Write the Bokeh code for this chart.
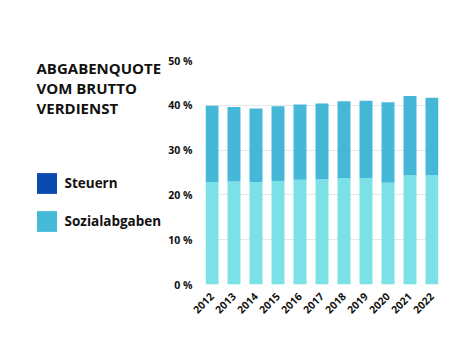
from bokeh.plotting import figure
from bokeh.layouts import row
from bokeh.models import (ColumnDataSource, Range1d, FixedTicker, Label, Legend, LegendItem)
from bokeh.embed import file_html
from bokeh.resources import INLINE
from math import pi

years = ["2012", "2013", "2014", "2015", "2016", "2017", "2018", "2019", "2020", "2021", "2022"]
steuern = [22.9, 23.0, 22.9, 23.1, 23.4, 23.5, 23.8, 23.8, 22.7, 24.4, 24.4]
sozialabgaben = [17.0, 16.6, 16.4, 16.7, 16.8, 16.9, 17.1, 17.2, 18.0, 17.7, 17.3]
y_ticks = [0, 10, 20, 30, 40, 50]
title_lines = ["ABGABENQUOTE", "VOM BRUTTO", "VERDIENST"]
legend_labels = ["Steuern", "Sozialabgaben"]
legend_colors = ["#0a4bb0", "#44b9d8"]

FONT = "Open Sans"
BAR_W = 0.59
LEFT_W = 165
H = 355

# ---------- left panel: title + legend ----------
left = figure(width=LEFT_W, height=H, output_backend="svg", toolbar_location=None,
              x_range=Range1d(0, LEFT_W), y_range=Range1d(H, 0),
              min_border=0, x_axis_type=None, y_axis_type=None)
left.frame_align = False
left.outline_line_color = None
left.grid.visible = False

for i, line in enumerate(title_lines):
    left.add_layout(Label(x=36, y=67 + i * 20.3, text=line, text_baseline="alphabetic",
                          text_font=FONT, text_font_style="bold",
                          text_font_size="15px", text_color="#111111"))

dummies = [left.quad(left=[-10], right=[-9], top=[-10], bottom=[-9],
                     fill_color=c, line_color=None) for c in legend_colors]
legend = Legend(items=[LegendItem(label=lab, renderers=[r]) for lab, r in zip(legend_labels, dummies)],
                location=(33.5, H - 233.6), orientation="vertical",
                glyph_width=25, glyph_height=26, spacing=12, padding=0, margin=0,
                label_standoff=6, label_text_font=FONT, label_text_font_style="bold",
                label_text_font_size="13.5px", label_text_color="#111111",
                label_text_baseline="middle",
                border_line_color=None, background_fill_alpha=0)
left.add_layout(legend, "center")

# ---------- right panel: stacked bars ----------
xs = list(range(len(years)))
src = ColumnDataSource(dict(x=xs, steuern=steuern, sozialabgaben=sozialabgaben))

p = figure(width=474 - LEFT_W, height=H, output_backend="svg", toolbar_location=None,
           x_range=Range1d(-BAR_W / 2, len(years) - 1 + BAR_W / 2),
           y_range=Range1d(0, 50),
           min_border_left=204 - LEFT_W, min_border_right=36, min_border_top=60, min_border_bottom=71)
p.frame_align = False
p.outline_line_color = None

p.vbar_stack(["steuern", "sozialabgaben"], x="x", width=BAR_W, source=src,
             color=["#7ce1e7", "#45b8d8"], line_color=None)

p.yaxis.ticker = FixedTicker(ticks=y_ticks)
p.yaxis.major_label_overrides = {t: f"{t} %" for t in y_ticks}
p.xaxis.ticker = FixedTicker(ticks=xs)
p.xaxis.major_label_overrides = {i: y for i, y in enumerate(years)}
p.xaxis.major_label_orientation = pi / 4
for ax in (p.xaxis, p.yaxis):
    ax.axis_line_color = None
    ax.major_tick_line_color = None
    ax.minor_tick_line_color = None
    ax.major_label_text_font = FONT
    ax.major_label_text_font_style = "bold"
    ax.major_label_text_font_size = "10.5px"
    ax.major_label_text_color = "#111111"
p.yaxis.major_label_standoff = 7
p.xaxis.major_label_standoff = 4
p.xgrid.grid_line_color = None
p.ygrid.grid_line_color = "#e6e6e6"
p.ygrid.grid_line_width = 1

layout = row(left, p, spacing=0)
open("out.html", "w").write(file_html(layout, INLINE))
